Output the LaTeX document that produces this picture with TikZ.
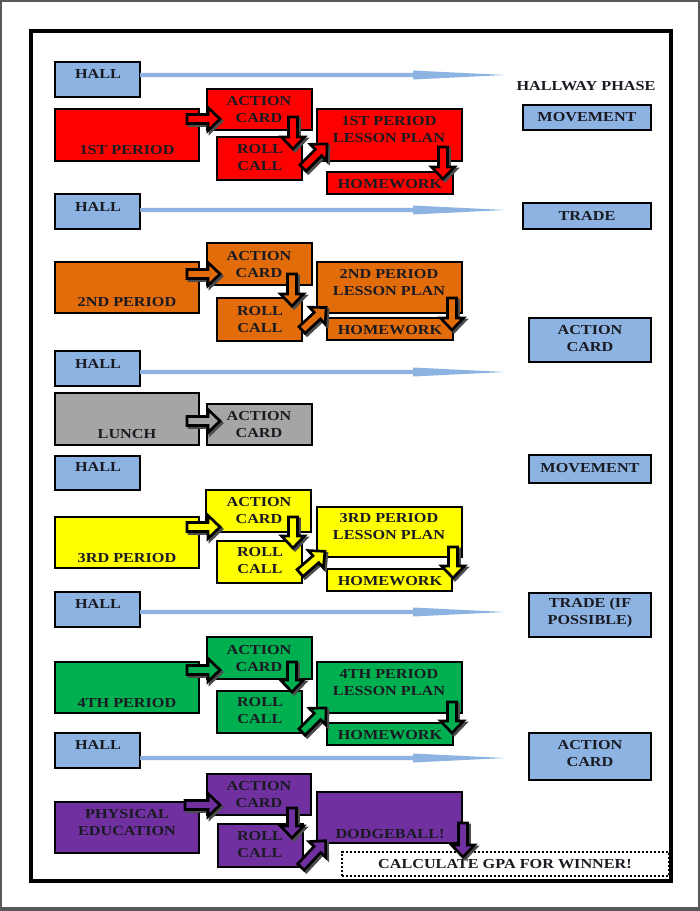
\documentclass[tikz,border=0pt]{standalone}
\usepackage{fontspec}
\usetikzlibrary{fit}
\newfontfamily\engr[FakeStretch=1.18]{Liberation Serif Bold}
\definecolor{hallblue}{HTML}{8DB3E2}
\definecolor{cred}{HTML}{FF0000}
\definecolor{corange}{HTML}{E26B0A}
\definecolor{cgray}{HTML}{A5A5A5}
\definecolor{cyellow}{HTML}{FFFF00}
\definecolor{cgreen}{HTML}{00B050}
\definecolor{cpurple}{HTML}{7030A0}
\definecolor{txtc}{HTML}{1A1A22}
\tikzset{
  bx/.style={draw=black, line width=0.9pt, inner sep=0pt},
  tx/.style={font=\engr\fontsize{10.3}{12.75}\selectfont, text=txtc, align=center, inner sep=0pt},
}
\newcommand\blkarrow[5]{%
  \begin{scope}[shift={(#1+2,#2+2)},rotate=#3]
    \filldraw[black!70,line width=2pt,line join=miter] (0,-4.5) -- (#4-12,-4.5) -- (#4-12,-11.5) -- (#4,0) -- (#4-12,11.5) -- (#4-12,4.5) -- (0,4.5) -- cycle;
  \end{scope}
  \begin{scope}[shift={(#1,#2)},rotate=#3]
    \filldraw[fill=#5,draw=black,line width=2pt,line join=miter] (0,-4.5) -- (#4-12,-4.5) -- (#4-12,-11.5) -- (#4,0) -- (#4-12,11.5) -- (#4-12,4.5) -- (0,4.5) -- cycle;
  \end{scope}}
\newcommand\hallarrow[1]{%
  \fill[hallblue] (140,#1-2.2) -- (413,#1-2.2) -- (413,#1-4.5) -- (505,#1) -- (413,#1+4.5) -- (413,#1+2.2) -- (140,#1+2.2) -- cycle;}
\begin{document}
\begin{tikzpicture}[x=0.75pt,y=-0.75pt]
\useasboundingbox (0,0) rectangle (700,911);
\fill[white] (0,0) rectangle (700,911);
% page border
\draw[black!65,line width=1.5pt] (1,911) -- (1,1) -- (699,1) -- (699,911);
\fill[black!65] (0,907) rectangle (700,911);
% frame
\draw[black,line width=3pt] (31,31) rectangle (671,881);

% ---------- row 1 ----------
\node[bx,fill=hallblue,fit={(55,62) (140,97)}] (h1) {};
\node[tx] (h1t) at (98,74) {HALL};
\hallarrow{75}
\node[tx] (hp) at (586,86) {HALLWAY PHASE};
\node[bx,fill=hallblue,fit={(523,105) (651,130)}] (m1) {};
\node[tx] (m1t) at (587,117) {MOVEMENT};
\node[bx,fill=cred,fit={(55,109) (199,161)}] (p1) {};
\node[tx] (p1t) at (127,150) {1ST PERIOD};
\node[bx,fill=cred,fit={(207,89) (312,130)}] (a1) {};
\node[tx] (a1t) at (259,109.5) {ACTION\\CARD};
\node[bx,fill=cred,fit={(217,137) (302,180)}] (r1) {};
\node[tx] (r1t) at (260,158) {ROLL\\CALL};
\node[bx,fill=cred,fit={(317,109) (462,161)}] (l1) {};
\node[tx] (l1t) at (389,129.5) {1ST PERIOD\\LESSON PLAN};
\node[bx,fill=cred,fit={(327,172) (453,194)}] (w1) {};
\node[tx] (w1t) at (390,184) {HOMEWORK};
\blkarrow{187}{119}{0}{33}{cred}
\blkarrow{293}{117}{-90}{32}{cred}
\blkarrow{303}{168}{45}{34}{cred}
\blkarrow{443}{147}{-90}{32}{cred}

% ---------- row 2 ----------
\node[bx,fill=hallblue,fit={(55,194) (140,229)}] (h2) {};
\node[tx] (h2t) at (98,207) {HALL};
\hallarrow{210}
\node[bx,fill=hallblue,fit={(523,203) (651,229)}] (t1) {};
\node[tx] (t1t) at (587,216) {TRADE};
\node[bx,fill=corange,fit={(55,262) (199,313)}] (p2) {};
\node[tx] (p2t) at (127,302) {2ND PERIOD};
\node[bx,fill=corange,fit={(207,243) (312,285)}] (a2) {};
\node[tx] (a2t) at (259,264.5) {ACTION\\CARD};
\node[bx,fill=corange,fit={(217,298) (302,341)}] (r2) {};
\node[tx] (r2t) at (260,319.5) {ROLL\\CALL};
\node[bx,fill=corange,fit={(317,262) (462,313)}] (l2) {};
\node[tx] (l2t) at (389,282.5) {2ND PERIOD\\LESSON PLAN};
\node[bx,fill=corange,fit={(327,318) (453,340)}] (w2) {};
\node[tx] (w2t) at (390,330) {HOMEWORK};
\blkarrow{187}{274}{0}{33}{corange}
\blkarrow{292}{274}{-90}{32}{corange}
\blkarrow{302}{330}{43}{33}{corange}
\blkarrow{452}{298}{-90}{32}{corange}
\node[bx,fill=hallblue,fit={(529,318) (651,362)}] (ac1) {};
\node[tx] (ac1t) at (590,338.5) {ACTION\\CARD};

% ---------- lunch ----------
\node[bx,fill=hallblue,fit={(55,351) (140,386)}] (h3) {};
\node[tx] (h3t) at (98,364) {HALL};
\hallarrow{372}
\node[bx,fill=cgray,fit={(55,393) (199,445)}] (lu) {};
\node[tx] (lut) at (127,434) {LUNCH};
\node[bx,fill=cgray,fit={(207,404) (312,445)}] (alu) {};
\node[tx] (alut) at (259,424.5) {ACTION\\CARD};
\blkarrow{187}{421}{0}{33}{cgray}
\node[bx,fill=hallblue,fit={(55,456) (140,490)}] (h4) {};
\node[tx] (h4t) at (98,467) {HALL};
\node[bx,fill=hallblue,fit={(529,455) (651,483)}] (m2) {};
\node[tx] (m2t) at (590,468) {MOVEMENT};

% ---------- row 3 ----------
\node[bx,fill=cyellow,fit={(55,517) (199,568)}] (p3) {};
\node[tx] (p3t) at (127,558) {3RD PERIOD};
\node[bx,fill=cyellow,fit={(206,490) (311,532)}] (a3) {};
\node[tx] (a3t) at (259,510.5) {ACTION\\CARD};
\node[bx,fill=cyellow,fit={(217,541) (302,583)}] (r3) {};
\node[tx] (r3t) at (260,561) {ROLL\\CALL};
\node[bx,fill=cyellow,fit={(317,507) (462,557)}] (l3) {};
\node[tx] (l3t) at (389,526.5) {3RD PERIOD\\LESSON PLAN};
\node[bx,fill=cyellow,fit={(327,569) (452,591)}] (w3) {};
\node[tx] (w3t) at (390,581) {HOMEWORK};
\blkarrow{187}{527}{0}{33}{cyellow}
\blkarrow{293}{517}{-90}{31}{cyellow}
\blkarrow{300}{573}{41}{33}{cyellow}
\blkarrow{453}{547}{-90}{31}{cyellow}

% ---------- hall 5 ----------
\node[bx,fill=hallblue,fit={(55,592) (140,627)}] (h5) {};
\node[tx] (h5t) at (98,604) {HALL};
\hallarrow{612}
\node[bx,fill=hallblue,fit={(529,593) (651,637)}] (t2) {};
\node[tx] (t2t) at (590,612.5) {TRADE (IF\\POSSIBLE)};

% ---------- row 4 ----------
\node[bx,fill=cgreen,fit={(55,662) (199,713)}] (p4) {};
\node[tx] (p4t) at (127,703) {4TH PERIOD};
\node[bx,fill=cgreen,fit={(207,637) (312,679)}] (a4) {};
\node[tx] (a4t) at (259,658.5) {ACTION\\CARD};
\node[bx,fill=cgreen,fit={(217,691) (302,733)}] (r4) {};
\node[tx] (r4t) at (260,711) {ROLL\\CALL};
\node[bx,fill=cgreen,fit={(317,662) (462,713)}] (l4) {};
\node[tx] (l4t) at (389,682.5) {4TH PERIOD\\LESSON PLAN};
\node[bx,fill=cgreen,fit={(327,723) (453,745)}] (w4) {};
\node[tx] (w4t) at (390,735) {HOMEWORK};
\blkarrow{187}{670}{0}{33}{cgreen}
\blkarrow{292}{662}{-90}{30}{cgreen}
\blkarrow{302}{732}{45}{34}{cgreen}
\blkarrow{452}{702}{-90}{31}{cgreen}

% ---------- hall 6 ----------
\node[bx,fill=hallblue,fit={(55,733) (140,768)}] (h6) {};
\node[tx] (h6t) at (98,745) {HALL};
\hallarrow{758}
\node[bx,fill=hallblue,fit={(529,733) (651,780)}] (ac2) {};
\node[tx] (ac2t) at (590,753.5) {ACTION\\CARD};

% ---------- row 5 ----------
\node[bx,fill=cpurple,fit={(55,802) (199,853)}] (pe) {};
\node[tx] (pet) at (127,823) {PHYSICAL\\EDUCATION};
\node[bx,fill=cpurple,fit={(207,774) (311,815)}] (a5) {};
\node[tx] (a5t) at (259,794.5) {ACTION\\CARD};
\node[bx,fill=cpurple,fit={(218,824) (303,867)}] (r5) {};
\node[tx] (r5t) at (260,845) {ROLL\\CALL};
\node[bx,fill=cpurple,fit={(317,792) (462,843)}] (db) {};
\node[tx] (dbt) at (390,834) {DODGEBALL!};
\node[draw=black,line width=1.6pt,dash pattern=on 1.6pt off 1.4pt,inner sep=0pt,fit={(342,852) (669,876)}] (gpa) {};
\node[tx] (gpat) at (505,864) {CALCULATE GPA FOR WINNER!};
\blkarrow{185}{805}{0}{35}{cpurple}
\blkarrow{292}{808}{-90}{30}{cpurple}
\blkarrow{301}{867}{47}{36}{cpurple}
\blkarrow{463}{823}{-90}{34}{cpurple}
\end{tikzpicture}
\end{document}
